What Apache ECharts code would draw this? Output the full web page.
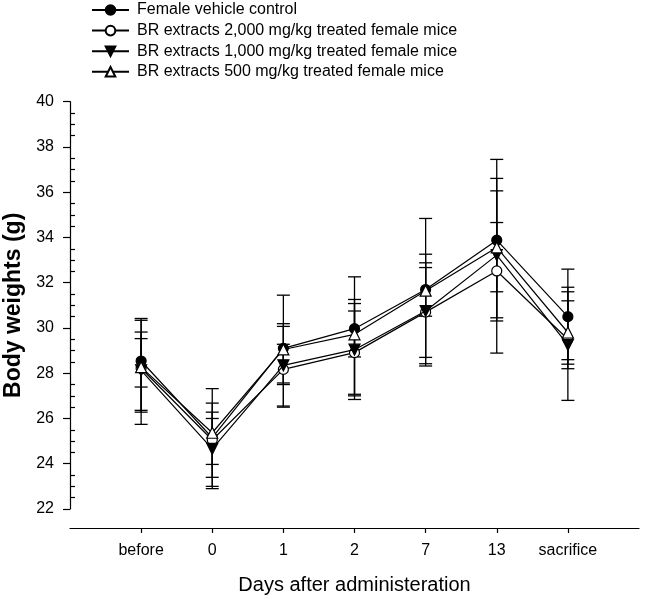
<!DOCTYPE html>
<html>
<head>
<meta charset="utf-8">
<script src="https://cdn.jsdelivr.net/npm/echarts@6/dist/echarts.min.js"></script>
<style>
html,body{margin:0;padding:0;background:#fff;}
#chart{width:645px;height:599px;}
</style>
</head>
<body>
<div id="chart"></div>
<script>
var categories = ['before', '0', '1', '2', '7', '13', 'sacrifice'];
var seriesNames = [
  'Female vehicle control',
  'BR extracts 2,000 mg/kg treated female mice',
  'BR extracts 1,000 mg/kg treated female mice',
  'BR extracts 500 mg/kg treated female mice'
];
var control = [28.54, 25.15, 29.10, 29.97, 31.70, 33.88, 30.50];
var br2000  = [28.22, 25.05, 28.17, 28.91, 30.70, 32.52, 29.50];
var br1000  = [28.13, 24.66, 28.35, 29.04, 30.75, 33.22, 29.25];
var br500   = [28.27, 25.37, 29.05, 29.72, 31.65, 33.56, 29.80];

var controlHigh = [30.42, 27.32, 31.45, 32.26, 34.84, 37.45, 32.60];
var controlLow  = [26.36, 22.90, 26.55, 27.07, 28.42, 30.31, 28.40];
var br2000High  = [29.82, 26.68, 30.07, 30.75, 32.67, 36.06, 31.60];
var br2000Low   = [25.74, 23.40, 27.57, 28.72, 28.70, 28.89, 26.80];
var br1000High  = [29.53, 26.28, 29.28, 31.08, 32.88, 34.66, 31.20];
var br1000Low   = [27.39, 23.00, 27.50, 26.84, 28.32, 31.60, 28.20];
var br500High   = [30.34, 26.00, 30.19, 31.26, 33.26, 36.61, 31.80];
var br500Low    = [26.28, 23.97, 26.50, 27.00, 30.52, 30.45, 28.60];

var yTicks = [22, 24, 26, 28, 30, 32, 34, 36, 38, 40];
var yMinorTicks = [22.5, 23, 23.5, 24.5, 25, 25.5, 26.5, 27, 27.5, 28.5, 29, 29.5,
  30.5, 31, 31.5, 32.5, 33, 33.5, 34.5, 35, 35.5, 36.5, 37, 37.5, 38.5, 39, 39.5];

var FONT = '"Liberation Sans", Arial, sans-serif';
var means = [control, br2000, br1000, br500];
var highs = [controlHigh, br2000High, br1000High, br500High];
var lows = [controlLow, br2000Low, br1000Low, br500Low];
var symbols = ['circle', 'circle', 'path://M0,0 L10,0 L5,9 Z', 'triangle'];
var fills = ['#000', '#fff', '#000', '#fff'];
var sizes = [10, 10, 11, 11];
var catPos = categories.map(function (c, i) { return i + 1; });

var series = [];
means.forEach(function (m, s) {
  series.push({
    type: 'custom',
    name: 'err' + s,
    z: 1,
    silent: true,
    data: catPos.map(function (x, i) { return [x, lows[s][i], highs[s][i]]; }),
    renderItem: function (params, api) {
      var x = api.value(0);
      var lo = api.coord([x, api.value(1)]);
      var hi = api.coord([x, api.value(2)]);
      var hw = 6.5;
      var st = { stroke: '#000', lineWidth: 1.3 };
      return {
        type: 'group',
        children: [
          { type: 'line', shape: { x1: lo[0], y1: lo[1], x2: hi[0], y2: hi[1] }, style: st },
          { type: 'line', shape: { x1: lo[0] - hw, y1: lo[1], x2: lo[0] + hw, y2: lo[1] }, style: st },
          { type: 'line', shape: { x1: hi[0] - hw, y1: hi[1], x2: hi[0] + hw, y2: hi[1] }, style: st }
        ]
      };
    }
  });
});
means.forEach(function (m, s) {
  series.push({
    type: 'line',
    name: seriesNames[s],
    z: 3 + s,
    data: catPos.map(function (x, i) { return [x, m[i]]; }),
    symbol: symbols[s],
    symbolSize: sizes[s],
    showAllSymbol: true,
    lineStyle: { color: '#000', width: 1.2 },
    itemStyle: { color: fills[s], borderColor: '#000', borderWidth: 1.2 },
    emphasis: { disabled: true }
  });
});

var chart = echarts.init(document.getElementById('chart'), null, { renderer: 'canvas' });
chart.setOption({
  animation: false,
  backgroundColor: '#fff',
  textStyle: { fontFamily: FONT, color: '#000' },
  legend: {
    orient: 'vertical',
    left: 91,
    top: 2,
    padding: 0,
    itemWidth: 37,
    itemHeight: 12,
    itemGap: 4.6,
    data: seriesNames,
    textStyle: { fontFamily: FONT, fontSize: 16, color: '#000', padding: [0, 0, 0, 3] },
    selectedMode: false
  },
  grid: { left: 70, right: 6, top: 101.7, bottom: 90, containLabel: false, outerBoundsMode: 'none' },
  xAxis: {
    type: 'value',
    min: 0,
    max: 8,
    interval: 1,
    offset: 19,
    axisLine: { lineStyle: { color: '#000', width: 1.2 } },
    axisTick: { customValues: catPos, length: 5, lineStyle: { color: '#000', width: 1.2 } },
    axisLabel: {
      customValues: catPos,
      margin: 15,
      fontSize: 16,
      fontFamily: FONT,
      color: '#000',
      formatter: function (v) { return categories[Math.round(v) - 1] || ''; }
    },
    splitLine: { show: false },
    name: 'Days after administeration',
    nameLocation: 'middle',
    nameGap: 47,
    nameTextStyle: { fontSize: 20, fontFamily: FONT, color: '#000' }
  },
  yAxis: [{
    type: 'value',
    min: 22,
    max: 40,
    interval: 2,
    axisLine: { show: true, lineStyle: { color: '#000', width: 1.2 } },
    axisTick: { show: true, length: 7, customValues: yTicks, lineStyle: { color: '#000', width: 1.2 } },
    axisLabel: { margin: 16, fontSize: 16, fontFamily: FONT, color: '#000', customValues: yTicks },
    splitLine: { show: false },
    name: 'Body weights (g)',
    nameLocation: 'middle',
    nameGap: 38,
    nameTextStyle: { fontSize: 23, fontWeight: 'bold', fontFamily: FONT, color: '#000' }
  }, {
    type: 'value',
    min: 22,
    max: 40,
    interval: 0.5,
    position: 'left',
    axisLine: { show: false },
    axisTick: { show: true, inside: true, length: 5, customValues: yMinorTicks, lineStyle: { color: '#000', width: 1.2 } },
    axisLabel: { show: false },
    splitLine: { show: false }
  }],
  series: series
});
</script>
</body>
</html>
